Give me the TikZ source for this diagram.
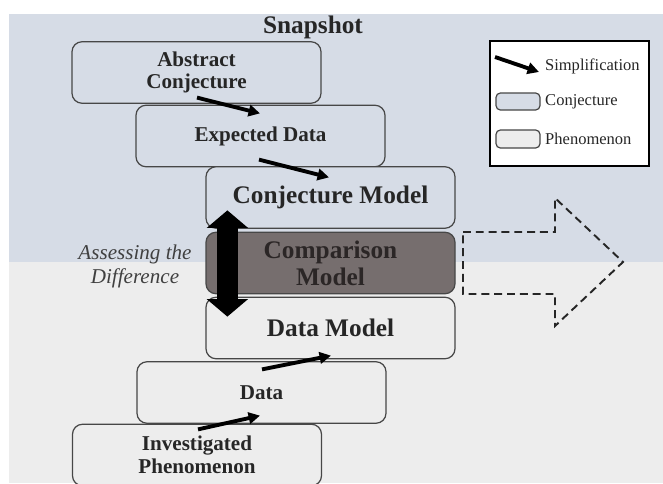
\documentclass[tikz,border=0pt]{standalone}
\usepackage{fontspec}
\setmainfont{Liberation Serif}
\usetikzlibrary{arrows.meta,calc,positioning}

\definecolor{conjblue}{HTML}{D6DCE6}
\definecolor{phengray}{HTML}{EDEDED}
\definecolor{compgray}{HTML}{766E6E}
\definecolor{comptext}{HTML}{2B2626}
\definecolor{edgegray}{HTML}{474747}

\begin{document}
\begin{tikzpicture}
		\useasboundingbox (0,0) rectangle (13.26,9.66);
		% two background bands
		\fill[conjblue] (0.18,4.42) rectangle (13.26,9.38);
		\fill[phengray] (0.18,0) rectangle (13.26,4.42);
		
		\node[font=\bfseries\fontsize{14.4}{16}\selectfont, text=black!85] (SN) at (6.26,9.11) {Snapshot};
		
		\begin{scope}[every node/.style={rectangle,rounded corners=0.2cm,draw=edgegray,line width=0.7pt,align=center, minimum width=4.98cm, minimum height=1.23cm, text=black!85, font=\bfseries\fontsize{12}{13}\selectfont}]
			\node[fill=conjblue] (AC) at (3.93,8.21) {Abstract\\Conjecture};
			\node[fill=conjblue] (ED) at (5.21,6.94) {Expected Data};
			\node[fill=conjblue, font=\bfseries\fontsize{14.4}{15.5}\selectfont] (CM) at (6.61,5.71) {Conjecture Model};
			\node[fill=compgray, text=comptext, font=\bfseries\fontsize{14.4}{15.5}\selectfont] (CP) at (6.61,4.40) {Comparison\\Model};
			\node[fill=phengray, font=\bfseries\fontsize{14.4}{15.5}\selectfont] (DM) at (6.61,3.10) {Data Model};
			\node[fill=phengray] (DA) at (5.23,1.81) {Data};
			\node[fill=phengray] (IP) at (3.94,0.56) {Investigated\\Phenomenon};
		\end{scope}
		
		\node[align=center, text=black!75, font=\itshape\fontsize{12}{14}\selectfont] (AD) at (2.70,4.33) {Assessing the\\Difference};
		
		\tikzstyle{simp} = [line width=2.2pt,-{Triangle[length=6.5pt,width=6.5pt]},color=black]
		\draw [simp] ($(AC.south)+(0.01,0.125)$) -- ($(ED.north)+(-0.01,-0.175)$);
		\draw [simp] ($(ED.south)+(-0.03,0.155)$) -- ($(CM.north)+(-0.03,-0.225)$);
		\draw [simp] ($(DA.north)+(0.01,-0.165)$) -- ($(DM.south)+(0.01,0.075)$);
		\draw [simp] ($(IP.north)+(0.02,-0.115)$) -- ($(DA.south)+(-0.03,0.165)$);
		
		% difference between the two models
		\tikzstyle{dbl} = [line width=12pt,{Triangle[length=10pt,width=23pt]}-{Triangle[length=10pt,width=23pt]},color=black]
		\draw [dbl] ($(CM.south west)+(0.44,0.37)$) -- ($(DM.north west)+(0.44,-0.40)$);
		
		% outlined arrow pointing away from the comparison
		\draw [dashed, dash pattern=on 4.5pt off 2.8pt, line width=1.1pt, color=black!85]
		(9.26,5.02) -- (11.10,5.02) -- (11.10,5.70) -- (12.46,4.42)
		-- (11.10,3.14) -- (11.10,3.78) -- (9.26,3.78) -- cycle;
		
		% legend
		\node[draw, line width=0.6pt, fill=white, minimum width=3.18cm, minimum height=2.5cm] (LG) at (11.39,7.59) {};
		\coordinate (LS) at (9.90,8.52);
		\coordinate (LE) at (10.78,8.22);
		\draw [simp] (LS) -- (LE);
		\begin{scope}[every node/.style={font=\fontsize{9.4}{11}\selectfont, text=black!85, inner sep=1pt}]
			\node[anchor=west] (LT) at (10.86,8.34) {Simplification};
			\node[draw=edgegray, line width=0.7pt, rounded corners=2.5pt, fill=conjblue, minimum width=0.88cm, minimum height=0.34cm] (SC) at (10.36,7.63) {};
			\node[right=0.05cm of SC] (TC) {Conjecture};
			\node[draw=edgegray, line width=0.7pt, rounded corners=2.5pt, fill=phengray, minimum width=0.88cm, minimum height=0.36cm] (SP) at (10.36,6.88) {};
			\node[right=0.05cm of SP] (TP) {Phenomenon};
		\end{scope}
		
	\end{tikzpicture}
\end{document}
